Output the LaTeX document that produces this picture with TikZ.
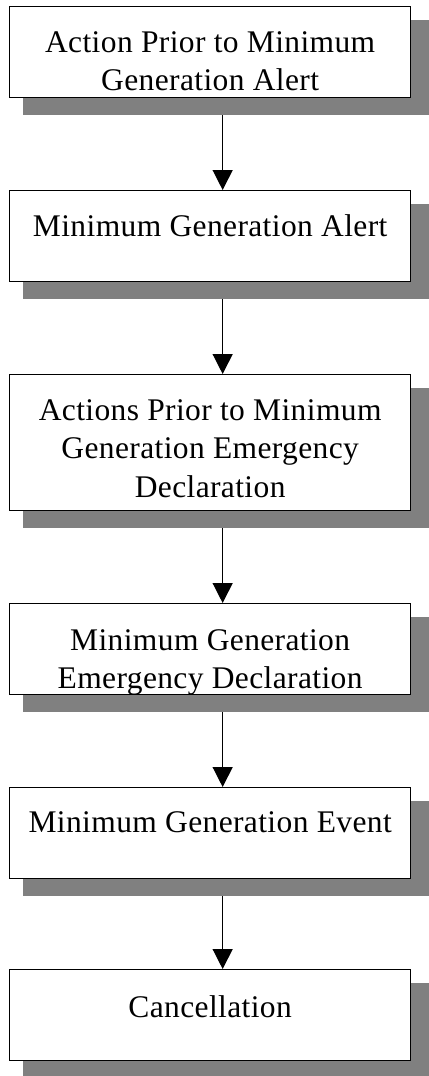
\documentclass[tikz,border=0pt]{standalone}
\usepackage{fontspec}
\setmainfont{Liberation Serif}[LetterSpace=1.2]
\usetikzlibrary{arrows.meta,calc,backgrounds}
\tikzset{
  box/.style={draw=black, line width=1.3bp, fill=white, inner sep=0pt,
              minimum width=401bp, anchor=north west},
  boxtext/.style={anchor=base, inner sep=0pt,
              font=\fontsize{31.5bp}{38.5bp}\selectfont},
  shadowfill/.style={fill=gray},
  flow/.style={line width=1.3bp, -{Triangle[width=20bp,length=20bp]}}
}
\newcommand{\boxshadow}[1]{%
  \fill[shadowfill] ($(#1.north west)+(13.5bp,-14bp)$) rectangle ($(#1.south east)+(20bp,-17bp)$);}
\begin{document}
\begin{tikzpicture}[x=1bp,y=-1bp]
\useasboundingbox (0,0) rectangle (428,1076);
\node[box, minimum height=91bp]  (b1) at (9,6)   {};
\node[box, minimum height=91bp]  (b2) at (9,190) {};
\node[box, minimum height=136bp] (b3) at (9,374) {};
\node[box, minimum height=91bp]  (b4) at (9,603) {};
\node[box, minimum height=91bp]  (b5) at (9,787) {};
\node[box, minimum height=91bp]  (b6) at (9,969) {};
\begin{scope}[on background layer]
  \boxshadow{b1}\boxshadow{b2}\boxshadow{b3}\boxshadow{b4}\boxshadow{b5}\boxshadow{b6}
\end{scope}
\node[boxtext] (t1) at ($(b1.north)+(0,46)$) {\begin{tabular}[t]{@{}c@{}}Action Prior to Minimum\\Generation Alert\end{tabular}};
\node[boxtext] (t2) at ($(b2.north)+(0,46)$) {Minimum Generation Alert};
\node[boxtext] (t3) at ($(b3.north)+(0,46)$) {\begin{tabular}[t]{@{}c@{}}Actions Prior to Minimum\\Generation Emergency\\Declaration\end{tabular}};
\node[boxtext] (t4) at ($(b4.north)+(0,47)$) {\begin{tabular}[t]{@{}c@{}}Minimum Generation\\Emergency Declaration\end{tabular}};
\node[boxtext] (t5) at ($(b5.north)+(0,45)$) {Minimum Generation Event};
\node[boxtext] (t6) at ($(b6.north)+(0,48)$) {Cancellation};
\foreach \a/\b in {b1/b2,b2/b3,b3/b4,b4/b5,b5/b6}
  \draw[flow] ($(\a.south)+(12.5,17)$) -- ($(\b.north)+(12.5,0)$);
\end{tikzpicture}
\end{document}
